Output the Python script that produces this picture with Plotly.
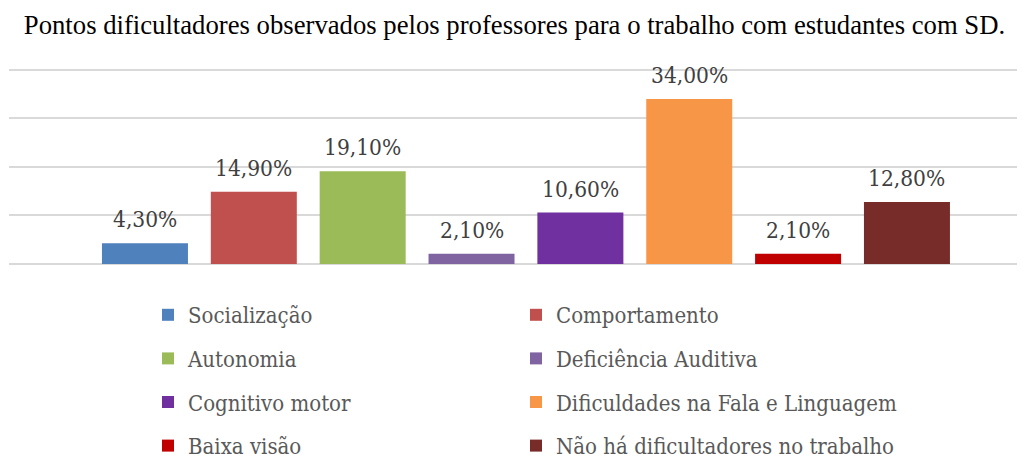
import plotly.graph_objects as go

categories = ["Socialização", "Comportamento", "Autonomia", "Deficiência Auditiva",
              "Cognitivo motor", "Dificuldades na Fala e Linguagem", "Baixa visão",
              "Não há dificultadores no trabalho"]
values = [4.3, 14.9, 19.1, 2.1, 10.6, 34.0, 2.1, 12.8]
labels = ["4,30%", "14,90%", "19,10%", "2,10%", "10,60%", "34,00%", "2,10%", "12,80%"]
colors = ["#4F81BD", "#C0504D", "#9BBB59", "#8064A2", "#7030A0", "#F79646", "#C00000", "#772C2A"]
y_ticks = [0, 10, 20, 30, 40]

label_font = "DejaVu Serif Condensed, DejaVu Serif, serif"

fig = go.Figure()
for i, (name, v, c) in enumerate(zip(categories, values, colors)):
    fig.add_trace(go.Bar(
        x=[i], y=[v], name=name, width=0.79,
        marker=dict(color=c, line=dict(width=0)),
        legend="legend" if i % 2 == 0 else "legend2",
        legendgroup=name, hoverinfo="skip",
    ))

for i, (v, lab) in enumerate(zip(values, labels)):
    fig.add_annotation(x=i, y=v, text=lab, showarrow=False, yanchor="middle",
                       yshift=24, xref="x", yref="y",
                       font=dict(family=label_font, size=22.5, color="#404040"))

legend_common = dict(
    orientation="v", font=dict(family=label_font, size=22, color="#595959"),
    tracegroupgap=12, bgcolor="rgba(0,0,0,0)", yanchor="top",
    xref="container", yref="container", xanchor="left",
)

fig.update_layout(
    width=1029, height=458,
    margin=dict(l=9, r=12, t=67, b=194, autoexpand=False),
    paper_bgcolor="white", plot_bgcolor="white",
    title=dict(text="Pontos dificultadores observados pelos professores para o trabalho com estudantes com SD.",
               font=dict(family="Liberation Serif, Times New Roman, serif", size=26.7, color="black"),
               x=0.5, xanchor="center", y=1 - 25 / 458, yanchor="middle"),
    xaxis=dict(range=[-1.249, 8.011], showticklabels=False, showgrid=False,
               zeroline=False, showline=False, fixedrange=True),
    yaxis=dict(range=[0, 40.6], tickvals=y_ticks, showticklabels=False, showgrid=True,
               gridcolor="#D9D9D9", gridwidth=1.5, zeroline=True, zerolinecolor="#D9D9D9",
               zerolinewidth=1.5, showline=False, fixedrange=True),
    legend=dict(x=148 / 1029, y=1 - 294 / 458, **legend_common),
    legend2=dict(x=516 / 1029, y=1 - 294 / 458, **legend_common),
    showlegend=True,
)

fig.write_html("out.html", config={"displayModeBar": False},
               post_script="document.body.style.margin='0';")
